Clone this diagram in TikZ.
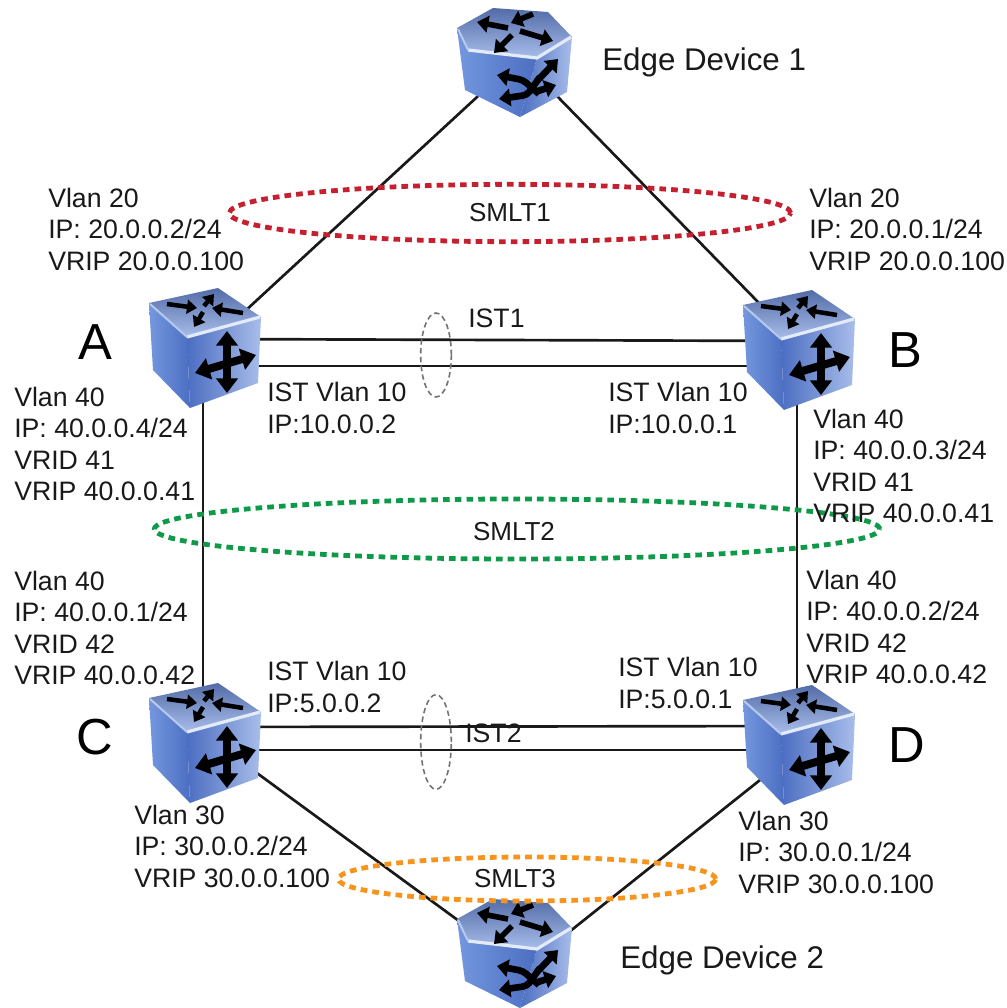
\documentclass[tikz,border=0pt]{standalone}
\usepackage{fontspec}
\setmainfont{Liberation Sans}
\usetikzlibrary{arrows.meta,shapes.geometric}
\definecolor{bdark}{HTML}{2A4596}
\definecolor{bmid}{HTML}{4C6EC2}
\definecolor{bedge}{HTML}{7497DE}
\definecolor{blight}{HTML}{A8BDEA}
\definecolor{btop}{HTML}{536CA8}
\definecolor{bhigh}{HTML}{E4EBF8}
\definecolor{smltred}{HTML}{C4202F}
\definecolor{smltgreen}{HTML}{0F9A4A}
\definecolor{smltorange}{HTML}{F7941E}
\tikzset{
 lbl/.style={anchor=west,align=left,inner sep=0pt,font=\fontsize{20}{23.6}\selectfont,text=black!90},
 big/.style={inner sep=0pt,font=\fontsize{38}{40}\selectfont,text=black},
 edgelbl/.style={anchor=west,inner sep=0pt,font=\fontsize{23.5}{26}\selectfont,text=black!90},
 anchorbox/.style={inner sep=0pt,minimum width=85pt,minimum height=85pt},
 wire/.style={line width=2pt,draw=black!90},
 smltring/.style={shape=ellipse,inner sep=0pt,line width=3.6pt,dash pattern=on 5pt off 3.8pt,font=\fontsize{19.5}{22}\selectfont,text=black!90},
 istring/.style={shape=ellipse,inner sep=0pt,line width=1.2pt,draw=black!55,dash pattern=on 4pt off 2.6pt,minimum width=23pt},
 ico/.style={draw=black,line width=3.4pt,line cap=butt,-{Triangle[length=7.5pt,width=10.5pt]}},
 icohex/.style={draw=black,line width=4.2pt,line cap=butt,-{Triangle[length=8.5pt,width=12.5pt]}},
 icox/.style={draw=black,line width=5pt,-{Triangle[length=8.5pt,width=13pt]}},
 icob/.style={draw=black,line width=6pt,{Triangle[length=11pt,width=16pt]}-{Triangle[length=11pt,width=16pt]}},
 pics/cube/.style={code={
  \shade[left color=bedge,middle color=bdark,right color=bmid] (-56,-45) -- (-18,-11) -- (-15,60) -- (-52,22) -- cycle;
  \shade[shading angle=120,left color=bmid,right color=blight] (-18,-11) -- (56,-31) -- (53,35) -- (-15,60) -- cycle;
  \shade[top color=btop,bottom color=blight] (-56,-45) -- (13,-60) -- (56,-31) -- (-18,-11) -- cycle;
  \draw[bhigh,line width=2.4pt,line join=round] (-18,-11) -- (55,-31);
  \draw[bhigh!60!bedge,line width=1.5pt] (-55,-44) -- (-18,-11);
  \draw[ico] (-38,-44) -- (-8,-40);
  \draw[ico] (-1,-42) -- (9,-54);
  \draw[ico] (38,-35) -- (7,-40);
  \draw[ico] (-2,-36) -- (-11,-21);
  \draw[icob] (22,-17) -- (22,45);
  \draw[icob] (-10,25) -- (51,7);
 }},
 pics/hexdev/.style={code={
  \shade[left color=bedge,middle color=bdark,right color=bmid] (-58,-34) -- (-47,-12) -- (22,-4) -- (5,55) -- (-50,28) -- cycle;
  \shade[shading angle=120,left color=bmid,right color=blight] (22,-4) -- (57,-25) -- (52,30) -- (5,55) -- cycle;
  \shade[top color=btop,bottom color=blight] (-58,-34) -- (-22,-54) -- (33,-50) -- (57,-25) -- (22,-4) -- (-47,-12) -- cycle;
  \draw[bhigh,line width=2.4pt,line join=round] (-47,-12) -- (22,-4) -- (56,-25);
  \draw[bhigh!60!bedge,line width=1.5pt] (-57,-33) -- (-47,-12);
  \draw[icohex] (-7,-34) -- (-38,-40);
  \draw[icohex] (18,-48) -- (-4,-39);
  \draw[icohex] (5,-31) -- (38,-21);
  \draw[icohex] (-3,-27) -- (-21,-9);
  \draw[icox,rounded corners=3pt] (24,32) -- (8,18) -- (-18,13);
  \draw[icox] (20,30) -- (41,23);
  \draw[icox,rounded corners=3pt] (25,15) -- (12,33) -- (-16,37);
  \draw[icox] (22,19) -- (43,-3);
 }}
}
\begin{document}
\begin{tikzpicture}[x=0.75pt,y=-0.75pt]
\useasboundingbox[fill=white] (0,0) rectangle (1007,1008);
\begin{scope}
\clip (0,0) rectangle (1007,1008);
% device anchors
\node[anchorbox] (edgeone) at (515,62) {};
\node[anchorbox] (edgetwo) at (515,953) {};
\node[anchorbox] (A) at (205,348) {};
\node[anchorbox] (B) at (799,350) {};
\node[anchorbox] (C) at (205,743) {};
\node[anchorbox] (D) at (799,745) {};
% connectors
\draw[wire] (edgeone.center) -- (A.center);
\draw[wire] ([yshift=6.75pt]edgeone.center) -- ([yshift=4.5pt]B.center);
\draw[wire] ([yshift=-6.75pt]edgetwo.center) -- ([yshift=6pt]C.center);
\draw[wire] ([yshift=-16.5pt]edgetwo.center) -- ([yshift=-3pt]D.center);
\draw[wire] ([xshift=-1.5pt]A.center) -- ([xshift=-1.5pt]C.center);
\draw[wire] ([xshift=-1.5pt]B.center) -- ([xshift=-1.5pt]D.center);
\draw[wire] ([yshift=6.75pt]A.center) -- ([yshift=6.75pt]B.center);
\draw[wire] ([yshift=-13.5pt]A.center) -- ([yshift=-12pt]B.center);
\draw[wire] ([yshift=12pt]C.center) -- ([yshift=14.25pt]D.center);
\draw[wire] ([yshift=-5.25pt]C.center) -- ([yshift=-3.75pt]D.center);
% devices
\pic at (edgeone) {hexdev};
\pic at (edgetwo) {hexdev};
\pic at (A) {cube};
\pic at (B) {cube};
\pic at (C) {cube};
\pic at (D) {cube};
\end{scope}
% rings
\node[smltring,draw=smltred,minimum width=421pt,minimum height=43pt] (s1) at (510,213) {SMLT1};
\node[smltring,draw=smltgreen,minimum width=544pt,minimum height=45pt] (s2) at (517,529) {};
\node[lbl,anchor=center,font=\fontsize{19.5}{22}\selectfont] (s2t) at (514,532) {SMLT2};
\node[smltring,draw=smltorange,minimum width=283pt,minimum height=33pt] (s3) at (527,879) {};
\node[lbl,anchor=center,font=\fontsize{19.5}{22}\selectfont] (s3t) at (515,879) {SMLT3};
\node[istring,minimum height=63pt] (i1) at (436,355) {};
\node[istring,minimum height=71pt] (i2) at (436,742) {};
% labels
\node[lbl] (l1) at (48,229) {Vlan 20\\IP: 20.0.0.2/24\\VRIP 20.0.0.100};
\node[lbl] (l2) at (809,229) {Vlan 20\\IP: 20.0.0.1/24\\VRIP 20.0.0.100};
\node[lbl] (l3) at (14,444) {Vlan 40\\IP: 40.0.0.4/24\\VRID 41\\VRIP 40.0.0.41};
\node[lbl] (l4) at (813,466) {Vlan 40\\IP: 40.0.0.3/24\\VRID 41\\VRIP 40.0.0.41};
\node[lbl] (l5) at (14,628) {Vlan 40\\IP: 40.0.0.1/24\\VRID 42\\VRIP 40.0.0.42};
\node[lbl] (l6) at (806,627) {Vlan 40\\IP: 40.0.0.2/24\\VRID 42\\VRIP 40.0.0.42};
\node[lbl] (l7) at (267,408) {IST Vlan 10\\IP:10.0.0.2};
\node[lbl] (l8) at (608,408) {IST Vlan 10\\IP:10.0.0.1};
\node[lbl] (l9) at (267,687) {IST Vlan 10\\IP:5.0.0.2};
\node[lbl] (l10) at (618,683) {IST Vlan 10\\IP:5.0.0.1};
\node[lbl] (l11) at (134,846) {Vlan 30\\IP: 30.0.0.2/24\\VRIP 30.0.0.100};
\node[lbl] (l12) at (738,852) {Vlan 30\\IP: 30.0.0.1/24\\VRIP 30.0.0.100};
\node[lbl] (ist1) at (468,318) {IST1};
\node[lbl] (ist2) at (465,733) {IST2};
\node[edgelbl] (e1) at (602,62) {Edge Device 1};
\node[edgelbl] (e2) at (620,960) {Edge Device 2};
\node[big] (ta) at (95,342) {A};
\node[big] (tb) at (905,350) {B};
\node[big] (tc) at (95,737) {C};
\node[big] (td) at (907,745) {D};
\end{tikzpicture}
\end{document}
